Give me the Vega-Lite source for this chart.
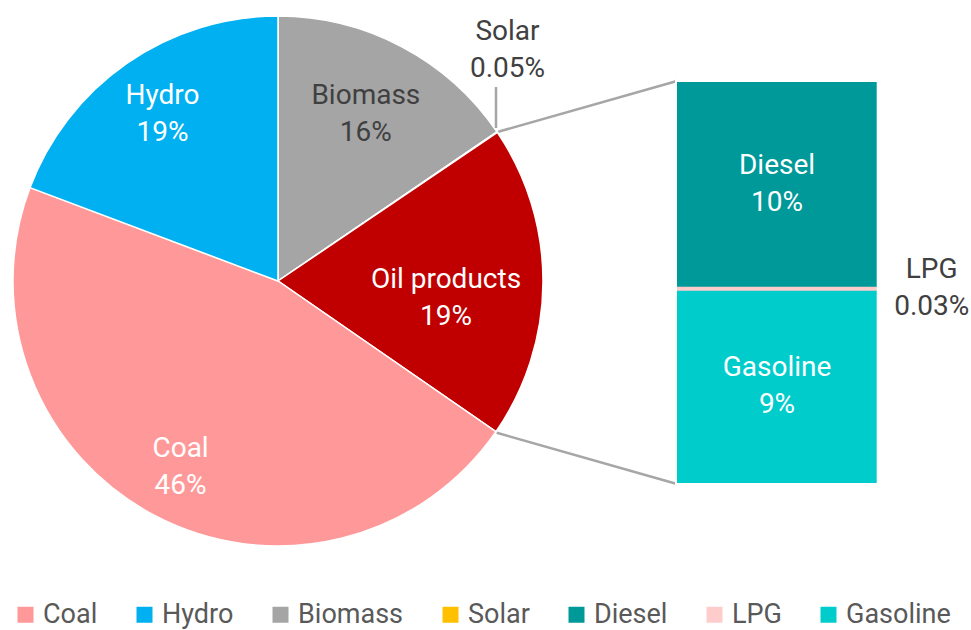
{
  "$schema": "https://vega.github.io/schema/vega-lite/v6.json",
  "width": 971,
  "height": 630,
  "autosize": {"type": "none"},
  "padding": 0,
  "background": "white",
  "config": {"view": {"stroke": null}, "font": "Roboto"},
  "datasets": {
    "pie": [
      {"name": "Biomass", "value": 15.48, "label": "Biomass\n16%"},
      {"name": "Solar", "value": 0.05, "label": "Solar\n0.05%"},
      {"name": "Oil products", "value": 19.1, "label": "Oil products\n19%"},
      {"name": "Coal", "value": 46.1, "label": "Coal\n46%"},
      {"name": "Hydro", "value": 19.27, "label": "Hydro\n19%"}
    ],
    "bars": [
      {"name": "Diesel", "value": 9.83, "label": "Diesel\n10%"},
      {"name": "LPG", "value": 0.03, "label": "LPG\n0.03%"},
      {"name": "Gasoline", "value": 9.24, "label": "Gasoline\n9%"}
    ]
  },
  "layer": [
    {
      "data": {"name": "pie"},
      "transform": [
        {"window": [{"op": "row_number", "as": "seq"}]},
        {"stack": "value", "groupby": [], "sort": [{"field": "seq", "order": "ascending"}], "as": ["t0", "t1"]}
      ],
      "mark": {"type": "arc", "outerRadius": 265, "stroke": "white", "strokeWidth": 1.5},
      "encoding": {
        "x": {"datum": 13.175, "type": "quantitative", "scale": {"domain": [0, 46.019], "nice": false, "zero": false}, "axis": null},
        "y": {"datum": 9.621, "type": "quantitative", "scale": {"domain": [-6.919, 22.938], "nice": false, "zero": false}, "axis": null},
        "theta": {"field": "t0", "type": "quantitative", "stack": null, "scale": {"domain": [0, 100]}},
        "theta2": {"field": "t1"},
        "color": {
          "field": "name", "type": "nominal",
          "scale": {
            "domain": ["Coal", "Hydro", "Biomass", "Solar", "Diesel", "LPG", "Gasoline", "Oil products"],
            "range": ["#FF9999", "#00B0F0", "#A5A5A5", "#FFC000", "#009999", "#FFCCCC", "#00CCCC", "#C00000"]
          },
          "legend": {
            "values": ["Coal", "Hydro", "Biomass", "Solar", "Diesel", "LPG", "Gasoline"],
            "title": null,
            "orient": "none",
            "direction": "horizontal",
            "legendX": 12,
            "legendY": 601,
            "symbolType": "square",
            "symbolSize": 256,
            "symbolStrokeWidth": 0,
            "labelFont": "Roboto",
            "labelFontSize": 27,
            "labelColor": "#595959",
            "labelOffset": 4,
            "columnPadding": 33,
            "labelLimit": 300
          }
        }
      }
    },
    {
      "data": {"name": "pie"},
      "mark": {"type": "rule", "color": "#A6A6A6", "strokeWidth": 2.5},
      "encoding": {
        "x": {"datum": 23.616, "type": "quantitative", "scale": {"domain": [0, 46.019], "nice": false, "zero": false}, "axis": null},
        "y": {"datum": 16.697, "type": "quantitative", "scale": {"domain": [-6.919, 22.938], "nice": false, "zero": false}, "axis": null},
        "x2": {"datum": 32.085},
        "y2": {"datum": 19.1}
      },
      "transform": [{"filter": "datum.name === 'Oil products'"}]
    },
    {
      "data": {"name": "pie"},
      "mark": {"type": "rule", "color": "#A6A6A6", "strokeWidth": 2.5},
      "encoding": {
        "x": {"datum": 23.54, "type": "quantitative", "scale": {"domain": [0, 46.019], "nice": false, "zero": false}, "axis": null},
        "y": {"datum": 2.431, "type": "quantitative", "scale": {"domain": [-6.919, 22.938], "nice": false, "zero": false}, "axis": null},
        "x2": {"datum": 32.085},
        "y2": {"datum": 0}
      },
      "transform": [{"filter": "datum.name === 'Oil products'"}]
    },
    {
      "data": {"name": "pie"},
      "mark": {"type": "rule", "color": "#A6A6A6", "strokeWidth": 2.5},
      "encoding": {
        "x": {"datum": 23.507, "type": "quantitative", "scale": {"domain": [0, 46.019], "nice": false, "zero": false}, "axis": null},
        "y": {"datum": 18.815, "type": "quantitative", "scale": {"domain": [-6.919, 22.938], "nice": false, "zero": false}, "axis": null},
        "y2": {"datum": 16.872}
      },
      "transform": [{"filter": "datum.name === 'Solar'"}]
    },
    {
      "data": {"name": "pie"},
      "transform": [
        {"window": [{"op": "row_number", "as": "seq"}]},
        {"stack": "value", "groupby": [], "sort": [{"field": "seq", "order": "ascending"}], "as": ["t0", "t1"]},
        {"calculate": "(datum.t0 + datum.t1) / 2", "as": "tmid"},
        {"filter": "datum.name === 'Hydro'"}
      ],
      "mark": {"type": "text", "radius": 203, "dy": -18.5, "fontSize": 28, "lineBreak": "\n", "lineHeight": 37, "align": "center", "baseline": "middle", "color": "white"},
      "encoding": {
        "x": {"datum": 13.175, "type": "quantitative", "scale": {"domain": [0, 46.019], "nice": false, "zero": false}, "axis": null},
        "y": {"datum": 9.621, "type": "quantitative", "scale": {"domain": [-6.919, 22.938], "nice": false, "zero": false}, "axis": null},
        "theta": {"field": "tmid", "type": "quantitative", "stack": null, "scale": {"domain": [0, 100]}},
        "text": {"field": "label"}
      }
    },
    {
      "data": {"name": "pie"},
      "transform": [
        {"window": [{"op": "row_number", "as": "seq"}]},
        {"stack": "value", "groupby": [], "sort": [{"field": "seq", "order": "ascending"}], "as": ["t0", "t1"]},
        {"calculate": "(datum.t0 + datum.t1) / 2", "as": "tmid"},
        {"filter": "datum.name === 'Biomass'"}
      ],
      "mark": {"type": "text", "radius": 188, "dy": -18.5, "fontSize": 28, "lineBreak": "\n", "lineHeight": 37, "align": "center", "baseline": "middle", "color": "#404040"},
      "encoding": {
        "x": {"datum": 13.175, "type": "quantitative", "scale": {"domain": [0, 46.019], "nice": false, "zero": false}, "axis": null},
        "y": {"datum": 9.621, "type": "quantitative", "scale": {"domain": [-6.919, 22.938], "nice": false, "zero": false}, "axis": null},
        "theta": {"field": "tmid", "type": "quantitative", "stack": null, "scale": {"domain": [0, 100]}},
        "text": {"field": "label"}
      }
    },
    {
      "data": {"name": "pie"},
      "transform": [
        {"window": [{"op": "row_number", "as": "seq"}]},
        {"stack": "value", "groupby": [], "sort": [{"field": "seq", "order": "ascending"}], "as": ["t0", "t1"]},
        {"calculate": "(datum.t0 + datum.t1) / 2", "as": "tmid"},
        {"filter": "datum.name === 'Coal'"}
      ],
      "mark": {"type": "text", "radius": 210, "dy": -18.5, "fontSize": 28, "lineBreak": "\n", "lineHeight": 37, "align": "center", "baseline": "middle", "color": "white"},
      "encoding": {
        "x": {"datum": 13.175, "type": "quantitative", "scale": {"domain": [0, 46.019], "nice": false, "zero": false}, "axis": null},
        "y": {"datum": 9.621, "type": "quantitative", "scale": {"domain": [-6.919, 22.938], "nice": false, "zero": false}, "axis": null},
        "theta": {"field": "tmid", "type": "quantitative", "stack": null, "scale": {"domain": [0, 100]}},
        "text": {"field": "label"}
      }
    },
    {
      "data": {"name": "pie"},
      "transform": [
        {"window": [{"op": "row_number", "as": "seq"}]},
        {"stack": "value", "groupby": [], "sort": [{"field": "seq", "order": "ascending"}], "as": ["t0", "t1"]},
        {"calculate": "(datum.t0 + datum.t1) / 2", "as": "tmid"},
        {"filter": "datum.name === 'Oil products'"}
      ],
      "mark": {"type": "text", "radius": 168, "dy": -1.5, "fontSize": 28, "lineBreak": "\n", "lineHeight": 37, "align": "center", "baseline": "middle", "color": "white"},
      "encoding": {
        "x": {"datum": 13.175, "type": "quantitative", "scale": {"domain": [0, 46.019], "nice": false, "zero": false}, "axis": null},
        "y": {"datum": 9.621, "type": "quantitative", "scale": {"domain": [-6.919, 22.938], "nice": false, "zero": false}, "axis": null},
        "theta": {"field": "tmid", "type": "quantitative", "stack": null, "scale": {"domain": [0, 100]}},
        "text": {"field": "label"}
      }
    },
    {
      "data": {"name": "pie"},
      "transform": [{"filter": "datum.name === 'Solar'"}],
      "mark": {"type": "text", "dy": -18, "fontSize": 28, "lineBreak": "\n", "lineHeight": 37, "align": "center", "baseline": "middle", "color": "#404040"},
      "encoding": {
        "x": {"datum": 24.052, "type": "quantitative", "scale": {"domain": [0, 46.019], "nice": false, "zero": false}, "axis": null},
        "y": {"datum": 20.569, "type": "quantitative", "scale": {"domain": [-6.919, 22.938], "nice": false, "zero": false}, "axis": null},
        "text": {"field": "label"}
      }
    },
    {
      "data": {"name": "bars"},
      "transform": [
        {"window": [{"op": "row_number", "as": "seq"}]},
        {"stack": "value", "groupby": [], "sort": [{"field": "seq", "order": "descending"}], "as": ["v0", "v1"]}
      ],
      "mark": {"type": "bar", "stroke": "white", "strokeWidth": 2},
      "encoding": {
        "x": {"datum": 32.038, "type": "quantitative", "scale": {"domain": [0, 46.019], "nice": false, "zero": false}, "axis": null},
        "x2": {"datum": 41.597},
        "y": {"field": "v0", "type": "quantitative", "stack": null, "scale": {"domain": [-6.919, 22.938], "nice": false, "zero": false}, "axis": null},
        "y2": {"field": "v1"},
        "color": {"field": "name", "type": "nominal"}
      }
    },
    {
      "data": {"name": "bars"},
      "transform": [
        {"window": [{"op": "row_number", "as": "seq"}]},
        {"stack": "value", "groupby": [], "sort": [{"field": "seq", "order": "descending"}], "as": ["v0", "v1"]},
        {"calculate": "(datum.v0 + datum.v1) / 2", "as": "vmid"},
        {"filter": "datum.name === 'LPG'"}
      ],
      "mark": {"type": "rule", "color": "#FFCCCC", "strokeWidth": 4},
      "encoding": {
        "x": {"datum": 32.085, "type": "quantitative", "scale": {"domain": [0, 46.019], "nice": false, "zero": false}, "axis": null},
        "x2": {"datum": 41.55},
        "y": {"field": "vmid", "type": "quantitative", "stack": null, "scale": {"domain": [-6.919, 22.938], "nice": false, "zero": false}, "axis": null}
      }
    },
    {
      "data": {"name": "bars"},
      "transform": [
        {"window": [{"op": "row_number", "as": "seq"}]},
        {"stack": "value", "groupby": [], "sort": [{"field": "seq", "order": "descending"}], "as": ["v0", "v1"]},
        {"calculate": "(datum.v0 + datum.v1) / 2", "as": "vmid"},
        {"filter": "datum.name !== 'LPG'"}
      ],
      "mark": {"type": "text", "dy": -18.5, "fontSize": 28, "lineBreak": "\n", "lineHeight": 37, "align": "center", "baseline": "middle", "color": "white"},
      "encoding": {
        "x": {"datum": 36.825, "type": "quantitative", "scale": {"domain": [0, 46.019], "nice": false, "zero": false}, "axis": null},
        "y": {"field": "vmid", "type": "quantitative", "stack": null, "scale": {"domain": [-6.919, 22.938], "nice": false, "zero": false}, "axis": null},
        "text": {"field": "label"}
      }
    },
    {
      "data": {"name": "bars"},
      "transform": [
        {"window": [{"op": "row_number", "as": "seq"}]},
        {"stack": "value", "groupby": [], "sort": [{"field": "seq", "order": "descending"}], "as": ["v0", "v1"]},
        {"calculate": "(datum.v0 + datum.v1) / 2", "as": "vmid"},
        {"filter": "datum.name === 'LPG'"}
      ],
      "mark": {"type": "text", "dy": -19, "fontSize": 28, "lineBreak": "\n", "lineHeight": 37, "align": "center", "baseline": "middle", "color": "#404040"},
      "encoding": {
        "x": {"datum": 44.156, "type": "quantitative", "scale": {"domain": [0, 46.019], "nice": false, "zero": false}, "axis": null},
        "y": {"field": "vmid", "type": "quantitative", "stack": null, "scale": {"domain": [-6.919, 22.938], "nice": false, "zero": false}, "axis": null},
        "text": {"field": "label"}
      }
    }
  ]
}
